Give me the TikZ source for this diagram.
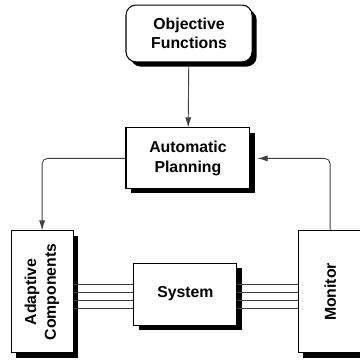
\documentclass[tikz,border=0pt]{standalone}
\usepackage{fontspec}
\setmainfont{Liberation Sans}
\usetikzlibrary{arrows.meta,shadows}

\tikzset{
  block/.style={draw, line width=0.8pt, fill=white, inner sep=0pt, align=center,
    font=\fontsize{12.5}{15.5}\selectfont\bfseries,
    drop shadow={shadow xshift=0.13cm, shadow yshift=-0.13cm, fill=black, opacity=1}},
  link/.style={draw=black!75, line width=0.7pt},
  flow/.style={link, -{Latex[length=2.8mm,width=1.7mm]}, rounded corners=0.15cm}
}

\begin{document}
\begin{tikzpicture}
\useasboundingbox (0,0) rectangle (10,10);
% boxes
\node[block, rounded corners=0.28cm, minimum width=3.5cm, minimum height=1.58cm] (objfun) at (5.25,9.07) {Objective\\Functions};
\node[block, minimum width=3.44cm, minimum height=1.69cm] (planning) at (5.22,5.6) {Automatic\\Planning};
\node[block, minimum width=1.72cm, minimum height=3.39cm] (adaptive) at (1.17,1.89)
  {\rotatebox{90}{\begin{tabular}{@{}c@{}}Adaptive\\Components\end{tabular}}};
\node[block, minimum width=2.86cm, minimum height=1.72cm] (system) at (5.15,1.83) {System};
\node[block, minimum width=1.78cm, minimum height=3.39cm] (monitor) at (9.17,1.89) {\rotatebox{90}{Monitor}};
% arrows
\draw[flow, shorten <=0.13cm] (objfun) -- (planning);
\draw[flow] (planning.west) -| (adaptive.north);
\draw[flow, shorten >=0.2cm] (monitor.north) |- (planning.east);
% wires to and from the system
\foreach \dy in {0.2,-0.02,-0.24,-0.46}
{
    \draw[link] ([yshift=\dy cm]adaptive.east) -- ([yshift=\dy cm]adaptive.east -| system.west);
    \draw[link] ([yshift=\dy cm]monitor.west -| system.east) -- ([yshift=\dy cm]monitor.west);
}
\end{tikzpicture}
\end{document}
